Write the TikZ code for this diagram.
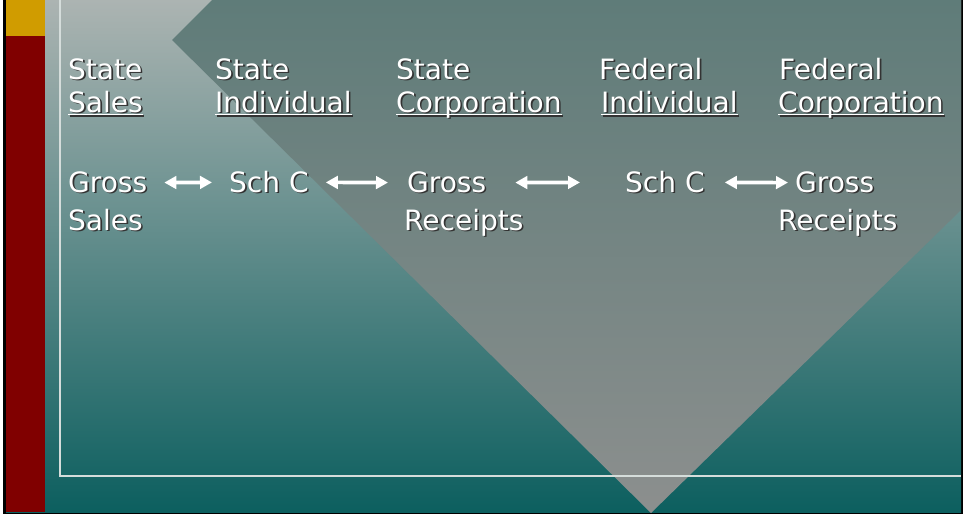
\documentclass[tikz,border=0pt]{standalone}
\usepackage{fontspec}
\setmainfont{DejaVu Sans}
\usetikzlibrary{arrows.meta}
\definecolor{bgtop}{HTML}{ACB4B2}
\definecolor{bgbot}{HTML}{0C5F5F}
\definecolor{vtop}{HTML}{5F7C79}
\definecolor{vbot}{HTML}{8C8F8E}
\definecolor{barred}{HTML}{800000}
\definecolor{bargold}{HTML}{D09C00}
\definecolor{framel}{HTML}{D5DDDB}
% white text with a dark drop shadow
\newcommand{\shtxt}[1]{\makebox[0pt][l]{\hspace{1.6pt}\raisebox{-1.6pt}{\textcolor{black!80}{#1}}}#1}
% underline at a fixed depth
\newsavebox{\ulbx}
\newcommand{\undl}[1]{\sbox{\ulbx}{#1}\makebox[0pt][l]{\rule[-3pt]{\wd\ulbx}{1.5pt}}\usebox{\ulbx}}
\begin{document}
\begin{tikzpicture}[x=1pt,y=-1pt,
  txt/.style={text=white,font=\fontsize{28}{33}\selectfont,inner sep=0pt,anchor=base west},
  twoway/.style={white,line width=3.6pt,{Triangle[length=12pt,width=12.5pt]}-{Triangle[length=12pt,width=12.5pt]}}]
\useasboundingbox (0,0) rectangle (963,514);
\fill[white] (0,0) rectangle (963,514);
\fill[black] (3,0) rectangle (963,514);
\shade[top color=bgtop,bottom color=bgbot] (6,0) rectangle (961,512);
\shade[top color=vtop,bottom color=vbot] (212,0)--(172,40)--(651,513)--(961,210)--(961,0)--cycle;
\draw[framel,line width=1.5pt] (60,0)--(60,476)--(961,476);
\fill[barred] (6,0) rectangle (45,512);
\fill[bargold] (6,0) rectangle (45,36);

% headings
\node[txt] (sales1) at (68,79) {\shtxt{State}};
\node[txt] (sales2) at (68,112) {\shtxt{\undl{Sales}}};
\node[txt] (sind1) at (215,79) {\shtxt{State}};
\node[txt] (sind2) at (215,112) {\shtxt{\undl{Individual}}};
\node[txt] (scorp1) at (396,79) {\shtxt{State}};
\node[txt] (scorp2) at (396,112) {\shtxt{\undl{Corporation}}};
\node[txt] (find1) at (599,79) {\shtxt{Federal}};
\node[txt] (find2) at (601,112) {\shtxt{\undl{Individual}}};
\node[txt] (fcorp1) at (779,79) {\shtxt{Federal}};
\node[txt] (fcorp2) at (778,112) {\shtxt{\undl{Corporation}}};

% items
\node[txt] (gs1) at (68,192) {\shtxt{Gross}};
\node[txt] (gs2) at (68,230) {\shtxt{Sales}};
\node[txt] (sc1) at (229,192) {\shtxt{Sch C}};
\node[txt] (gr1) at (407,192) {\shtxt{Gross}};
\node[txt] (gr2) at (404,230) {\shtxt{Receipts}};
\node[txt] (sc2) at (625,192) {\shtxt{Sch C}};
\node[txt] (fgr1) at (795,192) {\shtxt{Gross}};
\node[txt] (fgr2) at (778,230) {\shtxt{Receipts}};

\draw[twoway,shorten <=17pt,shorten >=17pt] (gs1.east)--(sc1.west);
\draw[twoway,shorten <=17pt,shorten >=19pt] (sc1.east)--(gr1.west);
\draw[twoway,shorten <=29pt,shorten >=45pt] (gr1.east)--(sc2.west);
\draw[twoway,shorten <=20pt,shorten >=7pt] (sc2.east)--(fgr1.west);
\end{tikzpicture}
\end{document}
